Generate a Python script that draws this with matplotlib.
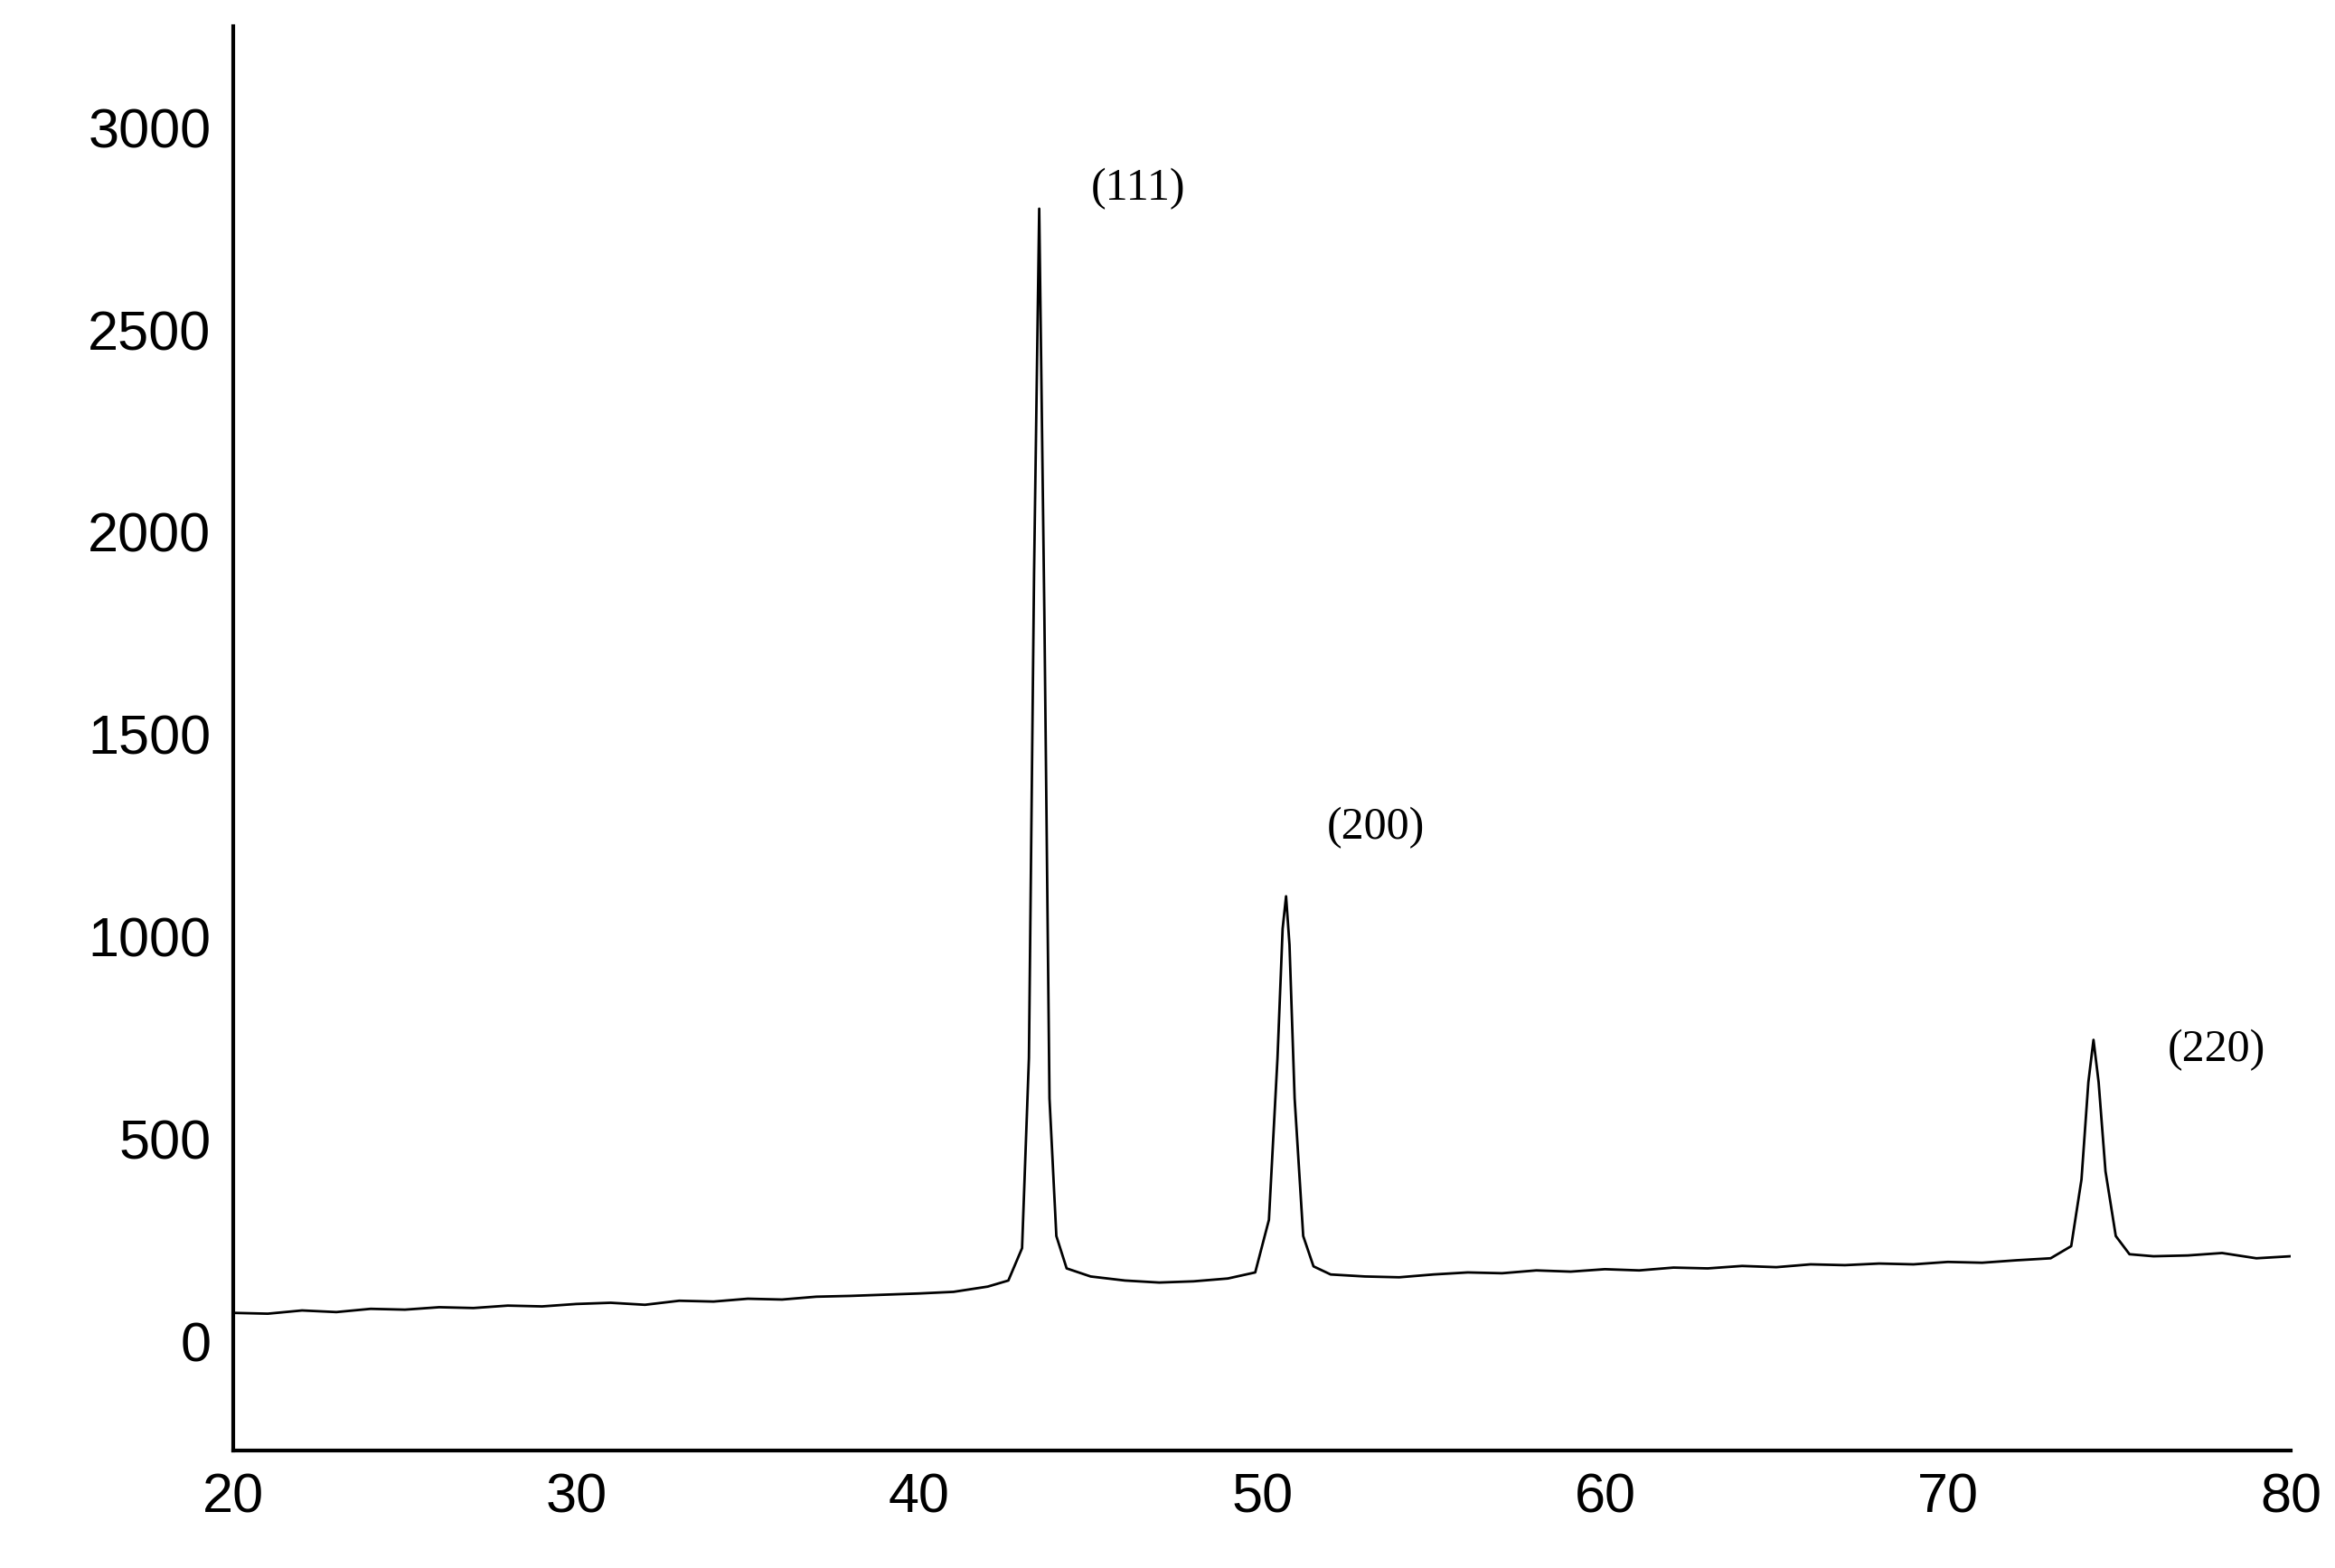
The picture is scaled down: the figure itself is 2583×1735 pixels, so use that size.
import matplotlib.pyplot as plt

two_theta = [20, 21, 22, 23, 24, 25, 26, 27, 28, 29, 30, 31, 32, 33, 34, 35, 36, 37, 38, 39, 40, 41, 42,
             42.6, 43.0, 43.2, 43.35, 43.5, 43.65, 43.8, 44.0, 44.3, 45, 46, 47, 48, 49, 49.8,
             50.2, 50.45, 50.6, 50.7, 50.8, 50.95, 51.2, 51.5, 52, 53, 54, 55, 56, 57, 58, 59, 60,
             61, 62, 63, 64, 65, 66, 67, 68, 69, 70, 71, 72, 73, 73.6, 73.9, 74.1, 74.25, 74.4,
             74.6, 74.9, 75.3, 76, 77, 78, 79, 80]
intensity = [70, 68, 76, 72, 80, 78, 84, 82, 88, 86, 92, 95, 90, 100, 98, 105, 103, 110, 112, 115, 118, 122, 135,
             150, 230, 700, 1900, 2800, 1800, 600, 260, 180, 160, 150, 145, 148, 155, 170,
             300, 700, 1020, 1100, 980, 600, 260, 185, 165, 160, 158, 165, 170, 168, 175, 172, 178,
             175, 182, 180, 186, 183, 190, 188, 192, 190, 196, 194, 200, 205, 235, 400, 640, 745, 640,
             420, 260, 215, 210, 212, 218, 205, 210]

peak_labels = ["(111)", "(200)", "(220)"]
label_x = [45.0, 51.9, 76.4]
label_y = [2850, 1270, 720]

fig = plt.figure(figsize=(25.83, 17.35), dpi=100)
ax = fig.add_axes([0.1, 0.075, 0.881, 0.908])
ax.plot(two_theta, intensity, color="black", linewidth=2)
for text, x, y in zip(peak_labels, label_x, label_y):
    ax.text(x, y, text, family="Liberation Serif", fontsize=36, ha="left", va="center")

ax.set_xlim(20, 80)
ax.set_ylim(-270, 3250)
ax.set_xticks(range(20, 81, 10))
ax.set_yticks(range(0, 3001, 500))
ax.tick_params(length=0, labelsize=44, pad=18)
for label in ax.get_xticklabels() + ax.get_yticklabels():
    label.set_family("Liberation Sans")
for side in ["top", "right"]:
    ax.spines[side].set_visible(False)
for side in ["left", "bottom"]:
    ax.spines[side].set_linewidth(3)

fig.savefig("out.png")
